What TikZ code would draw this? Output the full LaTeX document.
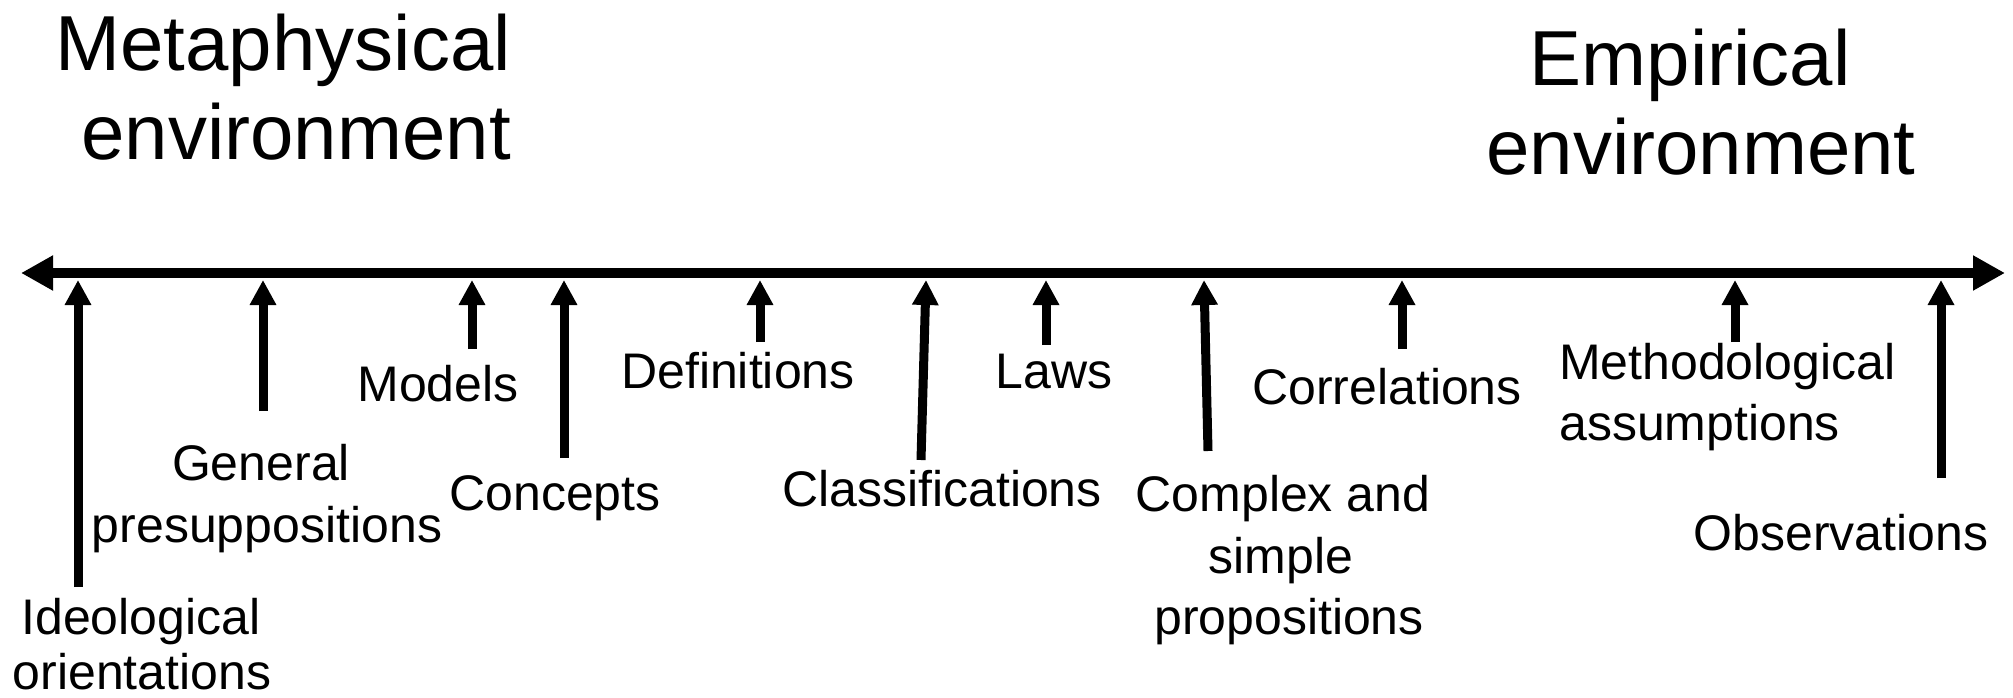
\documentclass[tikz,border=0pt]{standalone}
\usepackage{fontspec}
\setmainfont{Liberation Sans}
\usetikzlibrary{arrows.meta}
\begin{document}
\begin{tikzpicture}[x=1pt,y=-1pt,
  title/.style={font=\fontsize{78}{90}\selectfont, inner sep=0pt},
  lbl/.style={font=\fontsize{50}{58}\selectfont, inner sep=0pt, anchor=base},
  axis/.style={line width=10pt, {Triangle[length=32pt,width=33pt]}-{Triangle[length=32pt,width=33pt]}},
  feed/.style={line width=9pt, -{Triangle[length=25pt,width=25pt]}}]
\useasboundingbox (0,0) rectangle (2013,698);
% titles
\node[title, anchor=base east] (met1) at (511,71) {Metaphysical};
\node[title, anchor=base east] (met2) at (511,160) {environment};
\node[title, anchor=base] (emp1) at (1690,86) {Empirical};
\node[title, anchor=base] (emp2) at (1701,175) {environment};
% axis
\coordinate (axL) at (21,273);
\coordinate (axR) at (2005,273);
\draw[axis] (axL) -- (axR);
% labels
\node[lbl] (ideo1) at (141,634) {Ideological};
\node[lbl] (ideo2) at (142,689) {orientations};
\node[lbl] (gen1) at (261,480) {General};
\node[lbl] (gen2) at (267,542) {presuppositions};
\node[lbl] (mod) at (438,401) {Models};
\node[lbl] (con) at (555,510) {Concepts};
\node[lbl] (def) at (738,388) {Definitions};
\node[lbl] (cla) at (942,506) {Classifications};
\node[lbl] (law) at (1054,388) {Laws};
\node[lbl] (com1) at (1283,511) {Complex and};
\node[lbl] (com2) at (1281,573) {simple};
\node[lbl] (com3) at (1289,634) {propositions};
\node[lbl] (cor) at (1387,404) {Correlations};
\node[lbl, anchor=base west] (met1l) at (1559,379) {Methodological};
\node[lbl, anchor=base west] (met2l) at (1559,440) {assumptions};
\node[lbl] (obs) at (1841,550) {Observations};
% arrow ends
\foreach \n/\xb/\xt/\yb in {a/78/78/587, b/263/263/411, c/472/472/349, d/564/564/458,
  e/760/760/342, f/921/926/460, g/1046/1046/345, h/1208/1204/451, i/1402/1402/349,
  j/1735/1735/342, k/1941/1941/478}{
  \coordinate (\n b) at (\xb,\yb);
  \coordinate (\n t) at (\xt,280);
  \draw[feed] (\n b) -- (\n t);
}
\end{tikzpicture}
\end{document}
